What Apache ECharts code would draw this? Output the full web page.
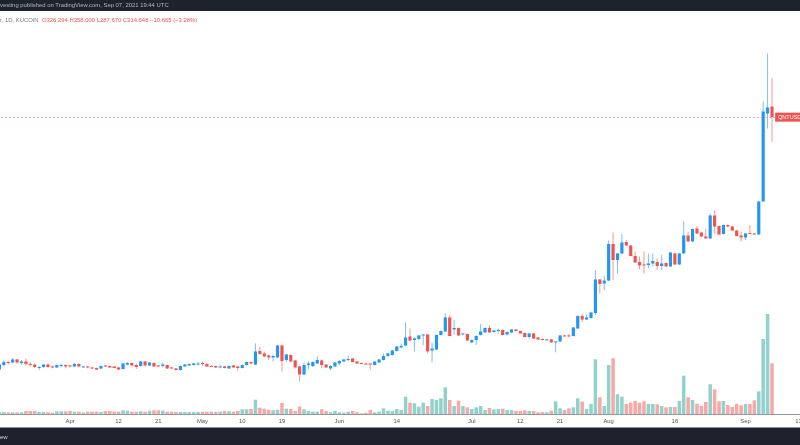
<!DOCTYPE html>
<html>
<head>
<meta charset="utf-8">
<script src="https://cdn.jsdelivr.net/npm/echarts@6/dist/echarts.min.js"></script>
<style>html,body{margin:0;padding:0;background:#fff;}#c{width:800px;height:445px;}</style>
</head>
<body>
<div id="c"></div>
<script>
// ---- data (QNT/USDT, 1D, KuCoin) ----
const startDate = '2021-03-16';
const dayCount = 182; // axis extends past last candle (Sep 7) to mid-September
const open = [37.0,42.0,45.3,44.8,48.1,44.2,45.9,43.1,42.5,39.3, 39.8,42.5,40.4,39.3,41.5,42.0,41.5,40.4,43.1,39.8, 40.4,39.3,38.7,38.2,41.5,40.9,40.4,39.3,37.6,42.5, 44.2,42.0,40.9,45.9,41.5,44.2,41.5,40.9,42.0,39.3, 38.2,36.5,40.4,41.5,42.0,43.1,44.2,43.1,40.9,40.9, 39.8,40.4,38.2,41.5,40.4,38.7,42.0,45.3,42.5,57.4, 54.7,52.5,50.3,50.3,63.5,47.5,53.0,47.0,40.4,31.6, 42.0,40.9,43.7,47.0,42.5,38.2,40.4,43.7,45.9,47.5, 49.2,45.9,44.2,43.7,43.7,42.0,44.8,47.5,51.9,53.0, 57.4,61.3,63.5,73.4,69.5,70.6,74.5,75.6,57.9,59.0, 75.0,78.9,94.3,81.1,82.7,75.6,76.1,66.8,69.5,75.0, 77.8,82.7,78.3,80.0,80.5,75.6,77.8,81.1,79.4,77.2, 72.8,76.7,72.3,70.6,69.5,70.1,66.8,67.9,74.5,74.5, 73.9,82.2,95.9,92.0,93.7,99.2,136.1,131.7,134.9,175.1, 157.5,164.7,177.3,173.5,161.9,155.3,152.6,152.0,153.7,155.3, 150.9,154.2,150.4,164.7,152.6,164.7,184.5,177.9,192.2,187.8, 183.4,181.2,206.5,194.9,186.1,196.0,194.4,189.9,184.5,182.3, 187.2,186.7,185.6,221.9,318.7,326.294];
const close = [42.5,45.3,44.2,48.1,44.8,45.9,43.1,42.0,39.8,39.8, 42.5,39.8,39.3,42.0,42.0,40.4,40.4,43.1,40.4,40.4, 39.3,38.2,37.0,40.9,40.4,39.3,38.7,37.0,43.7,44.2, 41.5,39.8,45.9,41.5,44.8,40.4,40.9,42.5,38.2,38.2, 36.5,40.9,42.5,43.1,43.7,43.7,43.1,40.4,40.4,39.3, 40.4,38.7,40.9,39.3,38.7,42.0,45.3,43.7,56.9,54.1, 51.4,50.3,51.9,63.5,46.4,53.6,45.9,39.3,31.6,42.0, 43.7,45.3,47.5,42.0,39.3,40.9,44.8,46.4,48.1,48.6, 45.3,43.7,43.7,42.5,42.5,45.9,48.1,51.9,54.7,57.9, 62.4,62.9,72.3,69.0,71.2,74.5,75.6,56.9,60.2,75.0, 79.4,94.3,73.9,82.7,74.5,76.7,69.0,69.5,73.9,78.9, 82.7,77.8,80.0,80.5,75.0,78.3,81.1,79.4,76.7,72.8, 76.7,71.2,70.1,69.5,70.1,66.8,67.9,74.5,73.9,73.4, 83.3,95.9,92.0,94.3,99.8,136.1,131.1,134.9,175.1,157.5, 164.7,176.8,173.5,161.9,154.8,151.5,151.5,153.7,156.4,150.9, 153.7,150.4,165.8,152.6,164.7,184.5,177.9,191.6,186.7,183.4, 181.2,206.5,194.4,185.6,196.0,194.4,189.9,183.9,182.3,186.7, 186.7,186.1,221.9,320.9,325.313,314.648];
const low = [35.4,40.4,42.5,43.7,43.7,42.5,41.5,40.4,38.7,36.5, 38.7,38.7,38.2,38.7,39.3,38.2,39.3,39.8,39.3,39.3, 38.2,37.6,36.5,37.0,39.8,38.7,38.2,36.5,37.0,41.5, 40.9,37.6,40.4,40.4,40.9,39.8,40.4,39.3,37.6,37.6, 35.9,35.9,39.8,40.9,41.5,41.5,40.9,39.8,39.8,38.7, 38.2,38.2,37.6,38.7,35.9,38.2,41.5,43.1,42.0,53.0, 50.3,47.5,45.9,49.7,34.9,45.3,44.8,38.2,23.9,31.0, 37.6,39.8,43.1,38.2,38.7,36.5,39.8,42.0,45.3,45.9, 44.8,43.1,43.1,42.0,36.5,41.5,44.2,47.0,51.4,52.5, 56.9,60.2,62.4,67.9,56.9,69.5,64.0,54.7,44.8,58.5, 74.5,78.3,73.4,75.0,73.9,75.0,68.4,66.2,64.0,74.5, 77.2,77.2,77.8,76.7,74.5,74.5,77.2,78.9,76.1,72.3, 71.2,70.6,69.5,69.0,69.0,66.2,55.8,67.3,73.4,72.8, 73.4,81.6,89.3,91.5,93.2,97.0,120.6,124.5,134.4,135.5, 142.7,164.1,172.9,161.4,154.2,147.1,142.7,148.2,150.4,146.5, 146.5,149.8,149.8,152.0,152.0,164.1,177.3,177.3,186.1,182.8, 180.6,180.6,186.7,185.0,185.6,193.8,189.4,183.4,177.9,179.5, 186.1,185.6,185.0,221.3,302.2,287.67];
const high = [44.2,47.0,47.0,49.7,48.6,47.5,49.2,45.3,43.7,40.9, 43.1,43.7,41.5,42.5,43.7,42.5,42.0,44.2,43.7,40.9, 40.9,39.8,39.3,41.5,42.0,41.5,40.9,39.8,44.2,45.3, 44.8,43.7,46.4,46.4,45.3,44.8,42.0,44.8,42.5,39.8, 38.7,41.5,43.1,43.7,44.2,45.3,45.9,43.7,41.5,41.5, 42.5,40.9,41.5,42.0,40.9,42.5,45.9,45.9,65.7,62.4, 56.9,53.6,53.0,64.0,64.6,54.1,53.6,47.5,40.9,44.8, 45.9,45.9,51.4,48.1,43.1,42.0,45.3,47.5,48.6,51.9, 49.7,46.4,44.8,44.2,44.2,46.4,48.6,54.7,55.2,58.5, 62.9,65.7,88.8,82.2,72.8,75.0,76.1,76.1,66.8,75.6, 80.0,98.7,97.0,91.5,83.3,77.2,76.7,70.1,74.5,87.1, 83.3,86.0,80.5,82.2,81.1,78.9,81.6,81.6,80.0,77.8, 77.2,77.2,72.8,71.2,70.6,70.6,68.4,75.0,75.0,76.1, 83.8,96.5,98.1,97.6,100.3,146.0,136.6,139.9,179.0,187.8, 165.2,186.1,179.5,174.0,166.9,161.4,166.9,164.7,164.7,159.2, 163.0,154.8,166.3,165.2,165.2,199.9,188.9,192.2,194.9,188.3, 192.2,208.7,212.5,195.5,196.6,196.6,194.9,190.5,188.9,187.2, 196.0,187.2,222.4,331.9,384.7,358.0];
const volume = [2.0,2.0,1.7,1.7,1.7,1.7,3.0,3.0,3.0,2.0, 2.0,1.7,1.5,2.7,2.7,2.7,3.0,2.3,2.3,1.5, 2.3,2.3,2.3,2.0,3.0,3.0,2.3,2.3,3.7,3.3, 2.3,2.3,2.7,2.3,3.3,3.7,3.7,3.3,2.3,2.3, 2.0,2.0,2.0,2.0,2.0,2.0,2.3,2.3,2.3,2.0, 2.3,3.0,2.7,2.3,3.0,4.7,4.7,5.0,14.3,6.3, 5.3,4.3,3.7,4.3,11.0,5.3,5.0,3.0,7.5,4.7, 3.0,2.3,2.3,4.7,3.0,1.7,3.0,1.7,1.3,2.3, 3.0,1.7,0.7,1.3,4.0,1.7,2.3,5.7,3.3,3.0, 5.0,4.0,17.3,11.3,10.7,7.3,11.3,8.0,15.0,14.0, 15.7,26.7,14.0,8.0,13.3,8.0,6.7,5.0,6.7,8.0, 4.0,6.0,4.7,5.0,5.3,4.0,4.0,3.0,3.0,3.7, 3.0,3.0,1.7,2.0,1.7,3.3,12.7,5.7,4.0,5.7, 6.7,15.7,12.3,5.3,10.0,54.7,16.7,8.0,49.0,55.7, 19.7,17.3,10.0,11.3,13.0,11.3,12.7,10.0,10.0,9.7, 8.0,6.7,7.0,7.0,13.0,38.3,16.7,14.0,10.3,8.0, 12.0,29.7,24.7,12.7,13.0,9.0,7.0,10.0,8.7,10.0, 10.0,13.7,22.7,75.0,100.0,50.7];
const tickDates = ['2021-04-01','2021-04-12','2021-04-21','2021-05-01','2021-05-10','2021-05-19','2021-06-01','2021-06-14','2021-07-01','2021-07-12','2021-07-21','2021-08-01','2021-08-16','2021-09-01','2021-09-13'];
const tickLabels = ['Apr','12','21','May','10','19','Jun','14','Jul','12','21','Aug','16','Sep','13'];
const symbolName = 'QNTUSD';
const headerPrefix = 'r, 1D, KUCOIN';
const publishedText = 'vesting published on TradingView.com, Sep 07, 2021 19:44 UTC';

// ---- build ----
const dates = [];
{
  const d0 = new Date(startDate + 'T00:00:00Z');
  for (let i = 0; i < dayCount; i++) {
    const d = new Date(d0.getTime() + i * 86400000);
    dates.push(d.toISOString().slice(0, 10));
  }
}
const UP = '#2196f3', DOWN = '#ef5350';
const WICK_UP = 'rgba(33,150,243,0.6)', WICK_DOWN = 'rgba(239,83,80,0.6)';
const ohlc = open.map((o, i) => [i, o, close[i], low[i], high[i]]);
const volData = volume.map((v, i) => ({
  value: v,
  itemStyle: { color: close[i] >= open[i] ? '#92d2cc' : '#f7a9a7' }
}));
const n = open.length - 1;
const lastClose = close[n];
const prevClose = close[n - 1];
const chg = lastClose - prevClose;
const fmt3 = v => v.toFixed(3);
const headerVals = 'O' + fmt3(open[n]) + ' H' + fmt3(high[n]) + ' L' + fmt3(low[n]) + ' C' + fmt3(lastClose) +
  ' \u2212' + fmt3(Math.abs(chg)) + ' (\u2212' + (Math.abs(chg) / prevClose * 100).toFixed(2) + '%)';
const labelDate = dates[n + 4];

function renderCandle(params, api) {
  const idx = api.value(0);
  const o = api.value(1), c = api.value(2), l = api.value(3), h = api.value(4);
  const pO = api.coord([idx, o]), pC = api.coord([idx, c]);
  const pL = api.coord([idx, l]), pH = api.coord([idx, h]);
  const bw = api.size([1, 0])[0] * 0.72;
  const up = c >= o;
  const x = pO[0];
  const top = Math.min(pO[1], pC[1]);
  const hgt = Math.max(Math.abs(pO[1] - pC[1]), 1);
  return {
    type: 'group',
    children: [
      { type: 'line', shape: { x1: x, y1: pH[1], x2: x, y2: pL[1] }, style: { stroke: up ? WICK_UP : WICK_DOWN, lineWidth: 1 } },
      { type: 'rect', shape: { x: x - bw / 2, y: top, width: bw, height: hgt }, style: { fill: up ? UP : DOWN } }
    ]
  };
}

const FONT = '"Liberation Sans", Arial, sans-serif';
const FS = 5.9;
const chart = echarts.init(document.getElementById('c'), null, { renderer: 'canvas', width: 800, height: 445 });
chart.setOption({
  animation: false,
  backgroundColor: '#ffffff',
  grid: { left: -2.8, width: 803.5, top: 30, bottom: 31, containLabel: false, outerBoundsMode: 'none' },
  xAxis: {
    type: 'category',
    data: dates,
    boundaryGap: true,
    axisLine: { show: true, onZero: false, lineStyle: { color: '#9598a1', width: 1 } },
    axisTick: { show: false },
    splitLine: { show: false },
    axisLabel: {
      interval: (idx, val) => tickDates.indexOf(val) >= 0,
      formatter: val => { const k = tickDates.indexOf(val); return k >= 0 ? tickLabels[k] : ''; },
      fontSize: FS, color: '#50535e', margin: 4, fontFamily: FONT
    }
  },
  yAxis: [
    { type: 'value', min: -11.9, max: 410.5, show: false, splitLine: { show: false } },
    { type: 'value', min: 0, max: 384, show: false, splitLine: { show: false } }
  ],
  series: [
    {
      type: 'bar',
      yAxisIndex: 1,
      data: volData,
      barWidth: '80%',
      z: 1
    },
    {
      type: 'custom',
      name: symbolName,
      data: ohlc,
      encode: { x: 0, y: [1, 2, 3, 4] },
      renderItem: renderCandle,
      clip: true,
      z: 3,
      markLine: {
        silent: true,
        symbol: ['none', 'none'],
        label: { show: false },
        lineStyle: { color: DOWN, type: [2, 2], width: 1, opacity: 0.45 },
        data: [{ yAxis: lastClose }]
      },
      markPoint: {
        silent: true,
        symbol: 'rect',
        symbolSize: [29, 9],
        itemStyle: { color: DOWN },
        label: { show: true, formatter: symbolName, color: '#ffffff', fontSize: 5.5, fontFamily: FONT },
        data: [{ coord: [labelDate, lastClose] }]
      }
    }
  ],
  graphic: [
    { type: 'rect', left: 0, top: 0, shape: { width: 800, height: 11 }, style: { fill: '#1e222d' }, silent: true },
    { type: 'text', x: 0, y: 5.5, style: { text: publishedText, fill: '#b2b5be', fontSize: FS, fontFamily: FONT, verticalAlign: 'middle' }, silent: true },
    { type: 'text', x: 0, y: 20, style: {
        text: '{g|' + headerPrefix + '} {r|' + headerVals + '}',
        verticalAlign: 'middle',
        rich: { g: { fill: '#787b86', fontSize: FS, fontFamily: FONT }, r: { fill: '#ef5350', fontSize: FS, fontFamily: FONT } }
      }, silent: true },
    { type: 'rect', left: 0, top: 427.5, shape: { width: 800, height: 17.5 }, style: { fill: '#1e222d' }, silent: true },
    { type: 'text', x: 0, y: 437, style: { text: 'ew', fill: '#d1d4dc', fontSize: 6, fontFamily: FONT, verticalAlign: 'middle' }, silent: true }
  ]
});
</script>
</body>
</html>
